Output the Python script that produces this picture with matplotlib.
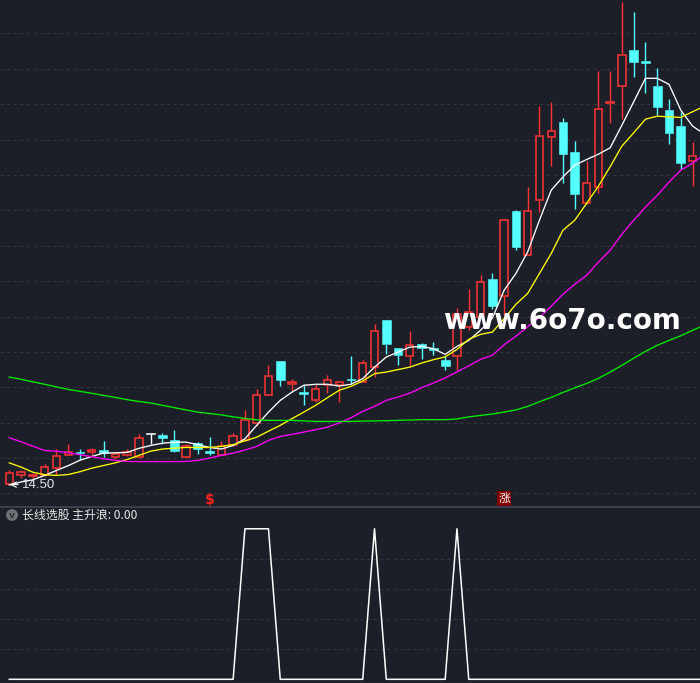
import matplotlib
matplotlib.use("Agg")
import matplotlib.pyplot as plt
from matplotlib.patches import Circle
import numpy as np

plt.rcParams['font.family'] = ['Noto Sans CJK SC', 'DejaVu Sans']

# K线数据 (开, 高, 低, 收)
opens = [14.55, 15.06, 14.96, 15.02, 15.45, 16.19, 16.29, 16.32, 16.47, 16.08,
         16.17, 16.05, 17.35, 17.28, 17.00, 16.05, 16.87, 16.38, 16.19, 16.73,
         17.00, 18.00, 19.56, 21.47, 20.20, 19.71, 19.30, 20.15, 20.11, 20.49,
         20.30, 21.17, 23.78, 22.20, 21.78, 22.47, 22.23, 21.52, 21.79, 23.41,
         23.98, 26.14, 25.14, 29.95, 27.50, 30.56, 34.14, 34.98, 33.27, 30.39,
         31.29, 36.06, 37.00, 39.06, 38.43, 37.02, 35.66, 34.76, 32.76]
highs = [15.30, 15.30, 15.13, 15.68, 16.53, 16.81, 16.53, 16.56, 16.94, 16.32,
         16.53, 17.38, 17.43, 17.43, 17.56, 16.81, 16.90, 17.18, 16.94, 17.43,
         18.72, 19.88, 21.24, 21.49, 20.49, 20.17, 20.17, 20.67, 20.34, 21.77,
         21.52, 23.55, 23.80, 22.22, 23.20, 22.53, 22.54, 21.78, 24.50, 25.58,
         26.32, 26.43, 29.50, 30.01, 31.29, 35.89, 36.11, 35.21, 33.91, 32.79,
         37.87, 37.87, 41.79, 41.21, 39.51, 38.02, 36.29, 35.53, 33.85]
lows = [14.50, 14.85, 14.79, 15.00, 15.07, 16.15, 15.87, 16.15, 16.05, 15.94,
        16.13, 16.02, 16.81, 16.77, 16.34, 16.03, 16.25, 16.15, 16.15, 16.71,
        16.98, 17.81, 19.54, 20.07, 19.73, 18.98, 19.16, 19.67, 19.16, 20.17,
        20.28, 20.59, 21.88, 21.24, 21.14, 21.62, 21.83, 20.96, 21.00, 23.22,
        23.95, 24.45, 24.07, 27.78, 27.49, 29.88, 32.51, 31.55, 30.06, 30.37,
        30.99, 34.94, 35.14, 37.55, 36.64, 35.38, 33.74, 32.33, 31.38]
closes = [15.17, 15.19, 15.02, 15.49, 16.13, 16.36, 16.27, 16.45, 16.28, 16.22,
          16.36, 17.15, 17.35, 17.15, 16.39, 16.66, 16.51, 16.26, 16.68, 17.22,
          18.17, 19.58, 20.66, 20.41, 20.30, 19.64, 19.92, 20.43, 20.32, 20.39,
          21.39, 23.19, 22.44, 21.81, 22.41, 22.24, 22.12, 21.18, 24.12, 24.28,
          25.97, 24.62, 29.48, 27.93, 29.95, 34.19, 34.46, 33.16, 30.95, 31.57,
          35.70, 36.13, 38.76, 38.39, 38.34, 35.85, 34.38, 32.68, 33.06]

# 均线 (最后一个点在画面右侧之外)
ma5 = [14.48, 14.65, 14.77, 15.02, 15.30, 15.57, 15.88, 16.09, 16.28, 16.30,
       16.32, 16.55, 16.71, 16.84, 16.90, 16.90, 16.76, 16.60, 16.51, 16.71,
       17.09, 17.85, 18.60, 19.26, 19.73, 20.11, 20.17, 20.17, 20.07, 20.17,
       20.49, 21.14, 21.71, 21.99, 22.27, 22.31, 22.18, 21.86, 22.31, 22.65,
       23.22, 23.90, 25.48, 26.43, 27.65, 29.44, 31.14, 31.89, 32.55, 32.87,
       33.17, 33.53, 34.81, 36.13, 37.46, 37.46, 37.12, 35.66, 34.76, 34.31]
ma10 = [15.73, 15.49, 15.20, 15.06, 15.02, 15.07, 15.23, 15.43, 15.58, 15.73,
        15.92, 16.15, 16.39, 16.51, 16.56, 16.60, 16.60, 16.60, 16.66, 16.76,
        16.97, 17.18, 17.52, 17.85, 18.23, 18.60, 18.98, 19.41, 19.83, 20.05,
        20.36, 20.77, 20.86, 21.00, 21.14, 21.37, 21.56, 21.72, 22.14, 22.71,
        22.99, 23.12, 23.87, 24.69, 25.30, 26.43, 27.56, 28.88, 29.44, 30.39,
        31.36, 32.46, 33.63, 34.38, 35.15, 35.32, 35.28, 35.25, 35.57, 35.89]
ma20 = [17.15, 16.92, 16.67, 16.43, 16.39, 16.30, 16.19, 16.08, 15.96, 15.87,
        15.81, 15.80, 15.80, 15.80, 15.80, 15.81, 15.87, 16.00, 16.15, 16.28,
        16.45, 16.66, 17.00, 17.22, 17.34, 17.47, 17.60, 17.75, 17.98, 18.28,
        18.64, 18.92, 19.26, 19.45, 19.67, 19.98, 20.24, 20.53, 20.87, 21.21,
        21.58, 21.81, 22.40, 22.88, 23.42, 23.95, 24.58, 25.26, 25.82, 26.33,
        27.07, 27.74, 28.65, 29.44, 30.18, 30.85, 31.59, 32.27, 32.66, 33.17]
ma60 = [20.58, 20.45, 20.31, 20.17, 20.02, 19.88, 19.77, 19.66, 19.54, 19.43,
        19.30, 19.20, 19.11, 18.98, 18.85, 18.72, 18.60, 18.52, 18.44, 18.33,
        18.24, 18.16, 18.13, 18.13, 18.13, 18.10, 18.07, 18.07, 18.07, 18.07,
        18.09, 18.10, 18.11, 18.13, 18.15, 18.17, 18.17, 18.17, 18.21, 18.33,
        18.41, 18.49, 18.60, 18.72, 18.92, 19.18, 19.43, 19.71, 19.97, 20.22,
        20.50, 20.86, 21.24, 21.64, 22.03, 22.37, 22.65, 22.91, 23.22, 23.50]

# 副图: 长线选股 主升浪
zsl = [0] * 20 + [1, 1, 1] + [0] * 8 + [1] + [0] * 6 + [1] + [0] * 21

low_label = "14.50"
signal_s_idx = 17
signal_zhang_idx = 42

BG = '#1c1f27'
GRID = '#343944'
RED = '#ff3333'
CYAN = '#54ffff'

fig = plt.figure(figsize=(7.0, 6.83), dpi=100, facecolor=BG)
H = 683.0
ax = fig.add_axes([0, (H - 505.5) / H, 1, 505.5 / H], facecolor=BG)
ax2 = fig.add_axes([0, 0, 1, (H - 506.5) / H], facecolor=BG)

n = len(closes)

# 画K线: 阳线空心红, 阴线实心青, 平盘白
for i in range(n):
    o, h, l, c = opens[i], highs[i], lows[i], closes[i]
    lo, hi = min(o, c), max(o, c)
    if c > o:
        ax.vlines(i, l, lo, color=RED, lw=1.0, zorder=3)
        ax.vlines(i, hi, h, color=RED, lw=1.0, zorder=3)
        ax.bar(i, max(hi - lo, 0.06), bottom=lo, width=0.62, facecolor=BG,
               edgecolor=RED, linewidth=1.1, zorder=4)
    else:
        col = CYAN if c < o else 'white'
        ax.vlines(i, l, h, color=col, lw=1.0, zorder=3)
        ax.bar(i, max(hi - lo, 0.07), bottom=lo, width=0.74, facecolor=col,
               edgecolor=col, linewidth=0.4, zorder=4)

xm = np.arange(len(ma5))
ax.plot(xm, ma5, color='white', lw=0.95, zorder=5)
ax.plot(xm, ma10, color='#ffff00', lw=0.95, zorder=5)
ax.plot(xm, ma20, color='#ff00ff', lw=0.95, zorder=5)
ax.plot(xm, ma60, color='#00ee00', lw=0.95, zorder=5)

ax.set_xlim(-0.79, 58.63)
ax.set_ylim(13.32, 41.885)
ax.set_yticks(np.arange(14, 41, 2))
ax.grid(axis='y', color=GRID, lw=0.8, linestyle=(0, (2.5, 3.5)))
ax.set_xticks([])
ax.tick_params(left=False, labelleft=False)
for s in ax.spines.values():
    s.set_visible(False)

# 最低价标记
ax.annotate(low_label, xy=(0.05, 14.50), xytext=(1.1, 14.50), color='#dfe6f0',
            fontsize=9.5, family='Liberation Sans', va='center', ha='left',
            arrowprops=dict(arrowstyle='->', color='white', lw=0.8,
                            shrinkA=1, shrinkB=0), zorder=6)

# 信号
ax.text(signal_s_idx, 13.62, '\\$', color='#ff2020', fontsize=10, fontweight='bold',
        family='DejaVu Sans', ha='center', va='center', zorder=6)
ax.text(signal_zhang_idx, 13.70, '涨', color='white', fontsize=8.5, ha='center',
        va='center', zorder=6,
        bbox=dict(boxstyle='square,pad=0.08', facecolor='#800000', edgecolor='none'))

# 水印
fig.text(562 / 700, 1 - 321 / H, 'www.6o7o.com', color='white', fontsize=20,
         fontweight='bold', family='DejaVu Sans', ha='center', va='center', zorder=10)

# 副图
xz = np.arange(len(zsl))
ax2.plot(xz, zsl, color='white', lw=1.1)
ax2.set_xlim(-0.79, 58.63)
ax2.set_ylim(-0.0245, 1.148)
ax2.set_yticks([0.2, 0.4, 0.6, 0.8])
ax2.grid(axis='y', color=GRID, lw=0.8, linestyle=(0, (2.5, 3.5)))
ax2.set_xticks([])
ax2.tick_params(left=False, labelleft=False)
for s in ax2.spines.values():
    s.set_visible(False)
ax2.spines['top'].set_visible(True)
ax2.spines['top'].set_color('#3b414d')
ax2.spines['top'].set_linewidth(1.4)
ax2.spines['bottom'].set_visible(True)
ax2.spines['bottom'].set_color('#3b414d')
ax2.spines['bottom'].set_linewidth(1.0)

# 副图标题
fig.patches.append(Circle((12 / 700, 1 - 515 / H), 6 / 700, transform=fig.transFigure,
                          facecolor='#6e7176', edgecolor='none'))
fig.text(12 / 700, 1 - 515.5 / H, 'v', color='#2a2d33', fontsize=6.5, fontweight='bold',
         family='DejaVu Sans', ha='center', va='center')
fig.text(22 / 700, 1 - 515 / H, '长线选股 主升浪: 0.00', color='#e8e8e8', fontsize=8.6,
         ha='left', va='center')

fig.savefig('out.png', dpi=100, facecolor=BG)
